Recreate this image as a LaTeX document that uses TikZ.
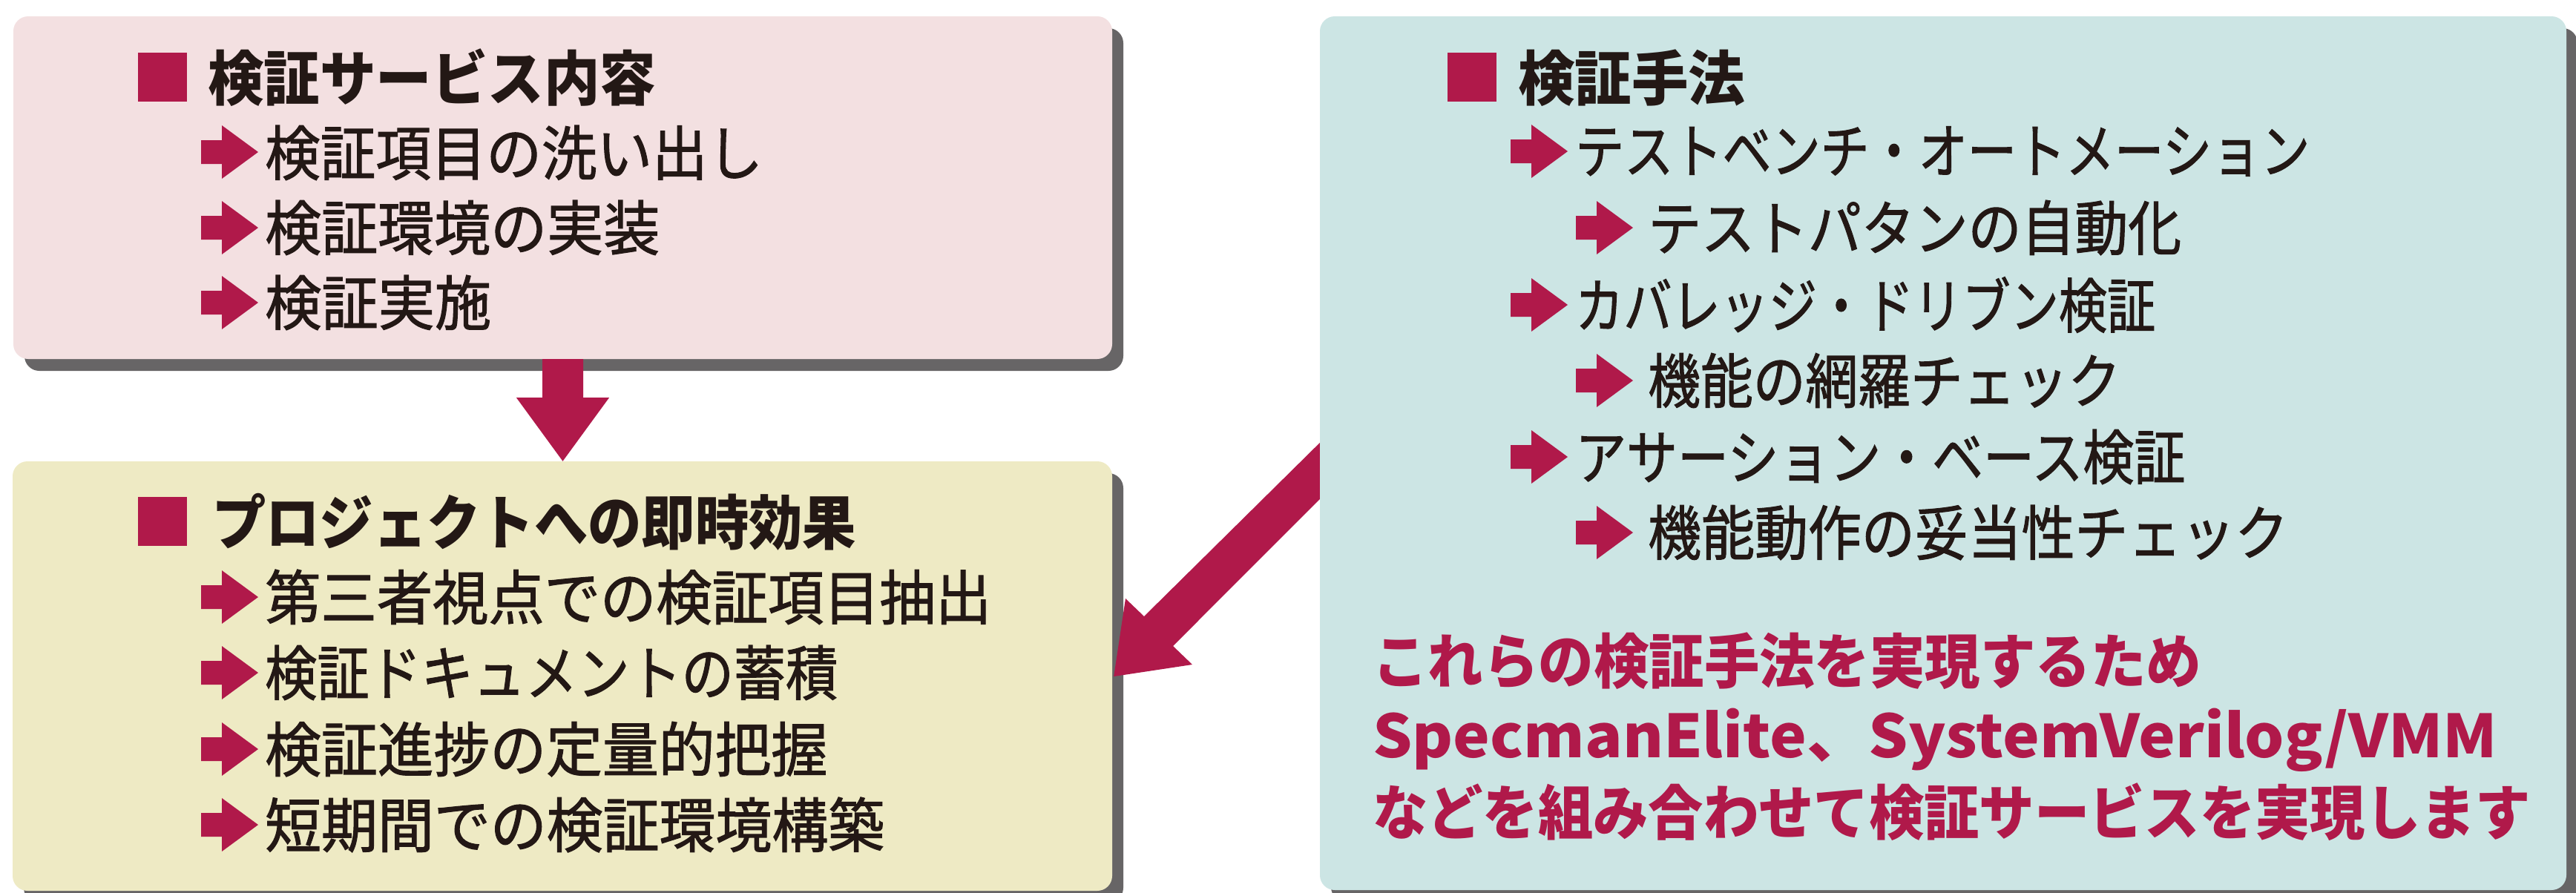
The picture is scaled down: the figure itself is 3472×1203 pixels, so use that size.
\documentclass[tikz,border=0pt]{standalone}
\usepackage{fontspec}
\usepackage{graphicx}
\usetikzlibrary{shadows,calc}
\newfontfamily\jpfont{Noto Sans CJK JP}
\newfontfamily\jpmed{Noto Sans CJK JP}[FakeBold=1.4]
\definecolor{ink}{HTML}{231815}
\definecolor{accent}{HTML}{B0194A}
\definecolor{pinkfill}{HTML}{F3E0E1}
\definecolor{yellowfill}{HTML}{EEEAC4}
\definecolor{tealfill}{HTML}{CCE5E4}
\definecolor{shadowgray}{HTML}{676566}
\newcommand\fitw[2]{\resizebox{#1pt}{\height}{#2}}
\tikzset{
  panel/.style={rounded corners=20pt, inner sep=0, draw=none,
    drop shadow={shadow xshift=15pt, shadow yshift=-16pt, fill=shadowgray, opacity=1}},
  hd/.style={anchor=west, inner sep=0, text=ink, font=\jpfont\bfseries\fontsize{80}{80}\selectfont},
  itm/.style={anchor=west, inner sep=0, text=ink, font=\jpmed\fontsize{80}{80}\selectfont},
  redtxt/.style={anchor=west, inner sep=0, text=accent, font=\jpfont\bfseries\fontsize{80}{80}\selectfont},
  sqbullet/.style={fill=accent, minimum size=66, inner sep=0, draw=none},
  barrow/.pic={\fill[accent] (0,-16) -- (28,-16) -- (28,-36) -- (77,0) -- (28,36) -- (28,16) -- (0,16) -- cycle;}
}
\begin{document}
\begin{tikzpicture}[x=1pt,y=-1pt]
\useasboundingbox (0,0) rectangle (3472,1203);
% panels
\node[panel, fill=pinkfill, minimum width=1481, minimum height=462] (svc) at (758.5,253) {};
\node[panel, fill=yellowfill, minimum width=1482, minimum height=579] (eff) at (758,911.5) {};
\node[panel, fill=tealfill, minimum width=1680, minimum height=1178] (meth) at (2619,611) {};

% top-left panel text
\node[sqbullet] (sq1) at (219,104) {};
\node[hd] (t1) at (280,105) {\fitw{604}{検証サービス内容}};
\pic (a11) at (271,205) {barrow};
\node[itm] (i11) at (357,206) {\fitw{671}{検証項目の洗い出し}};
\pic (a12) at (271,307) {barrow};
\node[itm] (i12) at (357,307) {\fitw{532}{検証環境の実装}};
\pic (a13) at (271,408) {barrow};
\node[itm] (i13) at (357,408) {\fitw{305}{検証実施}};

% bottom-left panel text
\node[sqbullet] (sq2) at (219,702.5) {};
\node[hd] (t2) at (286,704) {\fitw{868}{プロジェクトへの即時効果}};
\pic (a21) at (271,805) {barrow};
\node[itm] (i21) at (357,805) {\fitw{979}{第三者視点での検証項目抽出}};
\pic (a22) at (271,907) {barrow};
\node[itm] (i22) at (357,907) {\fitw{772}{検証ドキュメントの蓄積}};
\pic (a23) at (271,1010) {barrow};
\node[itm] (i23) at (357,1010) {\fitw{758}{検証進捗の定量的把握}};
\pic (a24) at (271,1112) {barrow};
\node[itm] (i24) at (357,1112) {\fitw{835}{短期間での検証環境構築}};

% right panel text
\node[sqbullet] (sq3) at (1984,103.5) {};
\node[hd] (t3) at (2046,105) {\fitw{306}{検証手法}};
\pic (a31) at (2036,204) {barrow};
\node[itm] (i31) at (2123,204) {\fitw{990}{テストベンチ・オートメーション}};
\pic (a32) at (2124,307) {barrow};
\node[itm] (i32) at (2221,307) {\fitw{719}{テストパタンの自動化}};
\pic (a33) at (2036,411) {barrow};
\node[itm] (i33) at (2123,411) {\fitw{782}{カバレッジ・ドリブン検証}};
\pic (a34) at (2124,513) {barrow};
\node[itm] (i34) at (2221,513) {\fitw{637}{機能の網羅チェック}};
\pic (a35) at (2036,616) {barrow};
\node[itm] (i35) at (2123,616) {\fitw{822}{アサーション・ベース検証}};
\pic (a36) at (2124,718) {barrow};
\node[itm] (i36) at (2221,718) {\fitw{863}{機能動作の妥当性チェック}};

\node[redtxt] (r1) at (1850,891) {\fitw{1117}{これらの検証手法を実現するため}};
\node[redtxt, anchor=base west] (r2) at (1850,1021) {\fitw{1516}{SpecmanElite、SystemVerilog/VMM}};
\node[redtxt] (r3) at (1850,1095) {\fitw{1561}{などを組み合わせて検証サービスを実現します}};

% down arrow from svc to eff
\fill[accent] ($(svc.south)+(-27.5,0)$) -- ($(svc.south)+(27.5,0)$) -- ($(svc.south)+(27.5,52)$)
  -- ($(svc.south)+(62.5,52)$) -- (svc.south |- eff.north) -- ($(svc.south)+(-62.5,52)$)
  -- ($(svc.south)+(-27.5,52)$) -- cycle;

% diagonal arrow from meth to eff
\coordinate (dstart) at (meth.west |- 0,635);
\coordinate (dtip) at (eff.east |- 0,912);
\fill[accent] ($(dstart)+(0,-38)$) -- (1542,831) -- (1517,807) -- ($(dtip)+(2,0)$) -- (1607,896)
  -- (1581,871) -- ($(dstart)+(0,38)$) -- cycle;
\end{tikzpicture}
\end{document}
